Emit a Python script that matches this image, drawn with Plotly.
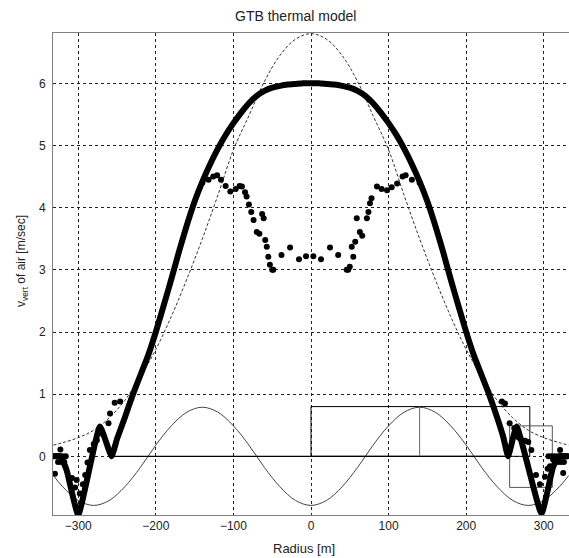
import plotly.graph_objects as go

# ---- data ----
# thick (model) curve
thick_x = [-332, -323, -315, -300, -272, -257, -250, -240, -230, -220, -210, -200, -190, -180, -170, -160, -150,
           -140, -130, -120, -110, -100, -90, -80, -70, -60, -50, -40, -30, -20, -10, 0,
           10, 20, 30, 40, 50, 60, 70, 80, 90, 100, 110, 120, 130, 140, 150, 160, 170, 180, 190, 200,
           210, 220, 230, 240, 248, 254, 265, 297, 312, 320, 332]
thick_y = [0.0, 0.0, -0.22, -0.94, 0.48, 0.0, 0.28, 0.62, 0.98, 1.30, 1.62, 2.0, 2.42, 2.85, 3.30, 3.72, 4.10,
           4.42, 4.70, 4.95, 5.17, 5.36, 5.53, 5.68, 5.80, 5.88, 5.93, 5.96, 5.98, 5.99, 6.0, 6.0,
           6.0, 5.99, 5.98, 5.96, 5.93, 5.88, 5.80, 5.68, 5.53, 5.36, 5.17, 4.95, 4.70, 4.42, 4.10, 3.72, 3.30, 2.85, 2.42, 2.0,
           1.62, 1.30, 0.98, 0.62, 0.30, 0.0, 0.48, -0.92, -0.17, 0.0, 0.0]

# measured points (dots)
dots_x = [-332, -328, -324, -320, -316, -326, -322, -318, -330, -323,
          -308, -304, -302, -298, -294, -291, -288, -285, -280, -276, -268, -261, -259, -253, -246,
          -140, -132, -126, -121, -116, -110, -104, -97, -92, -89, -85, -83, -80, -77, -74, -70, -66.5,
          -63, -61, -59, -57, -55, -53, -50, -48.6, -38, -27, -15.5, -6.4,
          3, 12.9, 24.5, 35, 46, 48, 50, 52.5, 54.5, 57, 59, 63, 66, 72, 74, 76, 78, 85, 91, 98, 104, 111, 118, 122, 130, 140,
          246, 250, 256, 262, 268, 276, 280, 284, 290, 295, 301.5, 305, 308, 312, 321, 325,
          306, 310, 314, 318, 322, 326, 330, 318, 322, 326]
dots_y = [0.0, 0.0, 0.0, 0.0, 0.0, -0.09, -0.09, -0.09, -0.28, 0.11,
          -0.35, -0.5, -0.38, -0.6, -0.45, -0.3, -0.1, 0.1, 0.2, 0.26, 0.35, 0.53, 0.69, 0.86, 0.88,
          4.40, 4.45, 4.50, 4.52, 4.45, 4.35, 4.26, 4.30, 4.35, 4.34, 4.25, 4.18, 4.05, 3.93, 3.80, 3.61, 3.58,
          3.90, 3.83, 3.48, 3.37, 3.21, 3.08, 3.0, 3.0, 3.24, 3.36, 3.17, 3.22,
          3.22, 3.17, 3.36, 3.24, 3.0, 3.0, 3.05, 3.37, 3.21, 3.45, 3.83, 3.61, 3.55, 3.83, 3.93, 4.07, 4.15, 4.34, 4.30, 4.28, 4.33, 4.39, 4.50, 4.52, 4.45, 4.40,
          0.88, 0.85, 0.53, 0.45, 0.3, 0.25, 0.23, 0.1, -0.3, -0.45, -0.33, -0.2, -0.16, -0.05, 0.1, -0.27,
          0.0, 0.0, 0.0, 0.0, 0.0, 0.0, 0.0, -0.09, -0.09, -0.09]

# thin dashed reference curve
ref_x = [-332, -320, -300, -280, -260, -240, -220, -200, -180, -160, -140, -120, -100, -80, -60, -40, -20, 0,
         20, 40, 60, 80, 100, 120, 140, 160, 180, 200, 220, 240, 260, 280, 300, 320, 332]
ref_y = [0.18, 0.22, 0.30, 0.42, 0.62, 0.90, 1.28, 1.72, 2.25, 2.85, 3.5, 4.2, 4.93, 5.48, 6.03, 6.45, 6.71, 6.80,
         6.71, 6.45, 6.03, 5.48, 4.93, 4.2, 3.5, 2.85, 2.25, 1.72, 1.28, 0.90, 0.62, 0.42, 0.30, 0.22, 0.18]

# thin solid oscillation
osc_x = [-332, -320, -300, -280, -260, -240, -220, -200, -180, -160, -140, -120, -100, -80, -60, -40, -20, 0,
         20, 40, 60, 80, 100, 120, 140, 160, 180, 200, 220, 240, 260, 280, 300, 320, 332]
osc_y = [-0.31, -0.49, -0.71, -0.79, -0.71, -0.49, -0.18, 0.18, 0.49, 0.71, 0.79, 0.71, 0.49, 0.18, -0.18, -0.49, -0.71, -0.79,
         -0.71, -0.49, -0.18, 0.18, 0.49, 0.71, 0.79, 0.71, 0.49, 0.18, -0.18, -0.49, -0.71, -0.79, -0.71, -0.49, -0.31]

# zero line and boxes
zero_x = [-257, 254]
zero_y = [0, 0]
box1_x = [0, 282, 282, 0, 0]
box1_y = [0, 0, 0.8, 0.8, 0]
mark_x = [140, 140]
mark_y = [0, 0.8]
box2_x = [256, 311, 311, 256, 256]
box2_y = [-0.5, -0.5, 0.49, 0.49, -0.5]

x_ticks = [-300, -200, -100, 0, 100, 200, 300]
y_ticks = [0, 1, 2, 3, 4, 5, 6]

FONT = "Liberation Sans, Arial, sans-serif"

fig = go.Figure()
fig.add_trace(go.Scatter(x=osc_x, y=osc_y, mode="lines", line=dict(color="#444444", width=1, shape="spline"), hoverinfo="skip"))
fig.add_trace(go.Scatter(x=ref_x, y=ref_y, mode="lines", line=dict(color="#333333", width=1, dash="3px,2px", shape="spline"), hoverinfo="skip"))
fig.add_trace(go.Scatter(x=zero_x, y=zero_y, mode="lines", line=dict(color="black", width=1.3)))
fig.add_trace(go.Scatter(x=box1_x, y=box1_y, mode="lines", line=dict(color="black", width=1)))
fig.add_trace(go.Scatter(x=mark_x, y=mark_y, mode="lines", line=dict(color="#666666", width=1)))
fig.add_trace(go.Scatter(x=box2_x, y=box2_y, mode="lines", line=dict(color="#555555", width=1)))
fig.add_trace(go.Scatter(x=thick_x, y=thick_y, mode="lines", line=dict(color="black", width=6, shape="spline", smoothing=0.4)))
fig.add_trace(go.Scatter(x=dots_x, y=dots_y, mode="markers", marker=dict(color="black", size=6)))

axis_common = dict(
    showgrid=True, gridcolor="#222222", griddash="3px,3px", gridwidth=1,
    showline=True, linecolor="#808080", linewidth=1, mirror=True,
    zeroline=False, ticks="", tickfont=dict(family=FONT, size=12, color="#222222"),
)

fig.update_layout(
    width=569, height=558,
    margin=dict(l=53, r=0, t=33, b=43),
    paper_bgcolor="white", plot_bgcolor="white",
    showlegend=False,
    font=dict(family=FONT, size=12, color="#222222"),
    xaxis=dict(range=[-332.5, 332.5], tickvals=x_ticks, **axis_common),
    yaxis=dict(range=[-0.944, 6.81], tickvals=y_ticks, ticklabelstandoff=4, **axis_common),
    annotations=[
        dict(text="GTB thermal model", x=0.47, y=1, xref="paper", yref="paper", yanchor="bottom", yshift=7,
             xanchor="center", showarrow=False, font=dict(family=FONT, size=14, color="#222222")),
        dict(text="Radius [m]", x=0.487, y=0, xref="paper", yref="paper", yanchor="top", yshift=-24,
             xanchor="center", showarrow=False, font=dict(family=FONT, size=13, color="#222222")),
        dict(text="v<sub>vert</sub> of air [m/sec]", x=0, y=0.527, xref="paper", yref="paper", textangle=-90,
             xanchor="center", xshift=-31, showarrow=False, font=dict(family=FONT, size=12, color="#222222")),
    ],
)

fig.write_html("out.html")
